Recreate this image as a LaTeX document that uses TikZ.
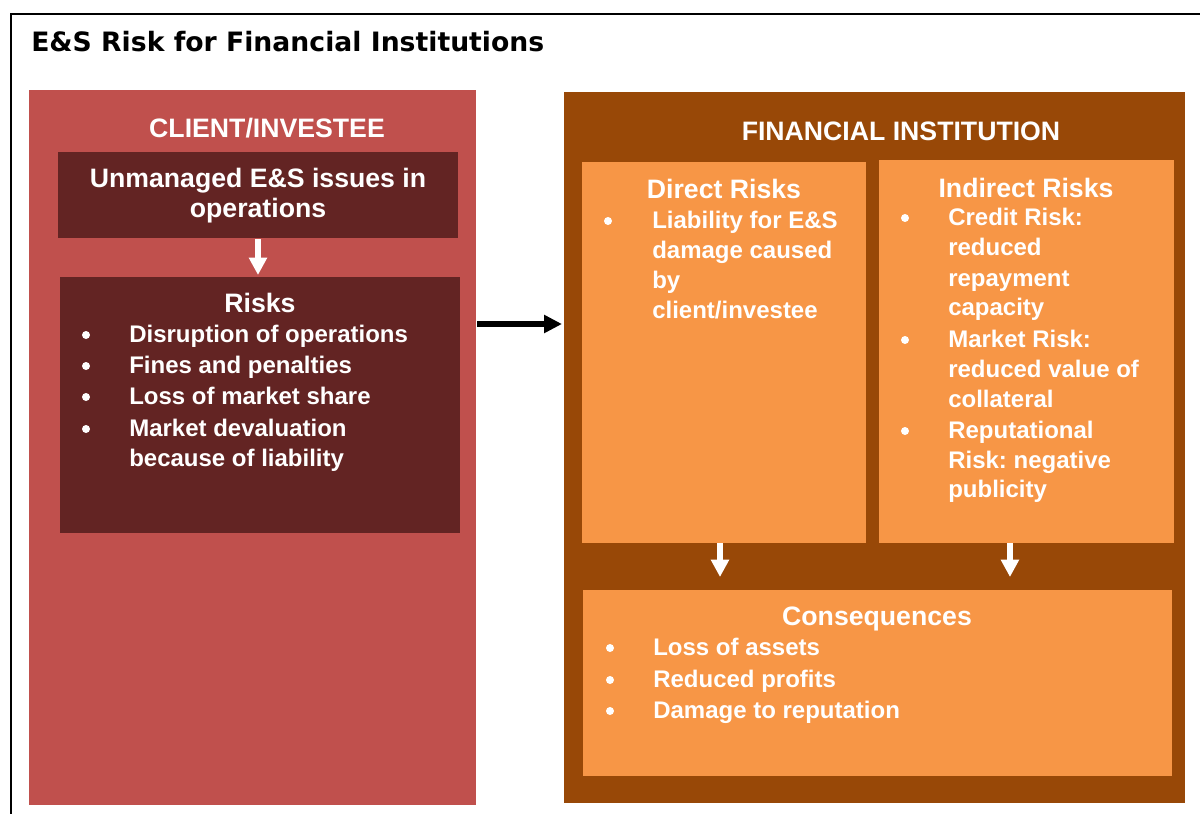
\documentclass[tikz,border=0pt]{standalone}
\usepackage{fontspec}
\setmainfont{Liberation Sans}
\newfontfamily\titlefont{DejaVu Sans}
\usetikzlibrary{arrows.meta}
\usetikzlibrary{calc}
\usetikzlibrary{positioning}

\definecolor{clientred}{HTML}{C0504D}
\definecolor{riskred}{HTML}{632423}
\definecolor{finbrown}{HTML}{984807}
\definecolor{finorange}{HTML}{F79646}
\frenchspacing

\begin{document}
\begin{tikzpicture}[x=0.75pt, y=-0.75pt,
    panel/.style={rectangle, anchor=north west, inner sep=0pt, outer sep=0pt},
    heading/.style={text=white, font=\bfseries\fontsize{20}{24}\selectfont, inner sep=0pt, anchor=base},
    itemtext/.style={text=white, font=\bfseries\fontsize{18}{22}\selectfont, inner sep=0pt, anchor=base west},
    bullet/.style={circle, fill=white, inner sep=0pt, minimum size=6pt, yshift=5.25pt},
    whitearrow/.style={white, line width=4.5pt, -{Triangle[width=13pt, length=13pt]}},
    blackarrow/.style={black, line width=4.5pt, -{Triangle[width=13pt, length=13.5pt]}}]
    \useasboundingbox (0,0) rectangle (1200,814);
    \draw[line width=1.5pt] (10.5,814) |- (1200,13.5);
    \node[anchor=base west, inner sep=0pt, font=\titlefont\bfseries\fontsize{20}{24}\selectfont] (title) at (31,51) {E\&S Risk for Financial Institutions};

    % client side
    \node[panel, fill=clientred, minimum width=447*0.75pt, minimum height=715*0.75pt] (client) at (29,90) {};
    \node[panel, fill=riskred, minimum width=400*0.75pt, minimum height=86*0.75pt] (issues) at (58,152) {};
    \node[panel, fill=riskred, minimum width=400*0.75pt, minimum height=256*0.75pt] (risks) at (60,277) {};
    \node[heading] (clienthead) at (267,137) {CLIENT/INVESTEE};
    \node[heading] (issue1) at (258,187) {Unmanaged E\&S issues in};
    \node[heading] (issue2) at (258,217) {operations};
    \node[heading] (riskhead) at (260,312) {Risks};
    \foreach \y/\t [count=\i] in {342/Disruption of operations, 373/Fines and penalties, 404/Loss of market share, 436/Market devaluation, 466/because of liability}
        \node[itemtext] (risk\i) at (129,\y) {\t};
    \foreach \y [count=\i] in {342,373,404,436}
        \node[bullet] (riskdot\i) at (86,\y) {};

    % financial institution side
    \node[panel, fill=finbrown, minimum width=621*0.75pt, minimum height=711*0.75pt] (fin) at (564,92) {};
    \node[panel, fill=finorange, minimum width=284*0.75pt, minimum height=381*0.75pt] (direct) at (582,162) {};
    \node[panel, fill=finorange, minimum width=295*0.75pt, minimum height=383*0.75pt] (indirect) at (879,160) {};
    \node[panel, fill=finorange, minimum width=589*0.75pt, minimum height=186*0.75pt] (cons) at (583,590) {};
    \node[heading] (finhead) at (901,140) {FINANCIAL INSTITUTION};

    \node[heading] (directhead) at (724,198) {Direct Risks};
    \foreach \y/\t [count=\i] in {228/Liability for E\&S, 258/damage caused, 288/by, 318/{client/investee}}
        \node[itemtext] (direct\i) at (652,\y) {\t};
    \node[bullet] (directdot1) at (608,228) {};

    \node[heading] (indirecthead) at (1026,197) {Indirect Risks};
    \foreach \y/\t [count=\i] in {225/Credit Risk:, 255/reduced, 286/repayment, 315/capacity, 347/Market Risk:, 377/reduced value of, 407/collateral, 438/Reputational, 468/Risk: negative, 497/publicity}
        \node[itemtext] (indirect\i) at (948,\y) {\t};
    \foreach \y [count=\i] in {225,347,438}
        \node[bullet] (indirectdot\i) at (905,\y) {};

    \node[heading] (conshead) at (877,625) {Consequences};
    \foreach \y/\t [count=\i] in {655/Loss of assets, 687/Reduced profits, 718/Damage to reputation}
        \node[itemtext] (cons\i) at (653,\y) {\t};
    \foreach \y [count=\i] in {655,687,718}
        \node[bullet] (consdot\i) at (610,\y) {};

    % arrows
    \coordinate (mid) at (0,324);
    \draw[whitearrow, shorten <=0.75pt, shorten >=1.5pt] (issues.south) -- (issues.south |- risks.north);
    \draw[blackarrow, shorten <=0.75pt, shorten >=1.5pt] (client.east |- mid) -- (fin.west |- mid);
    \draw[whitearrow, shorten >=9.75pt] ([xshift=-3pt]direct.south) -- ([xshift=-3pt]direct.south |- cons.north);
    \draw[whitearrow, shorten >=9.75pt] ([xshift=-12.4pt]indirect.south) -- ([xshift=-12.4pt]indirect.south |- cons.north);
\end{tikzpicture}
\end{document}
